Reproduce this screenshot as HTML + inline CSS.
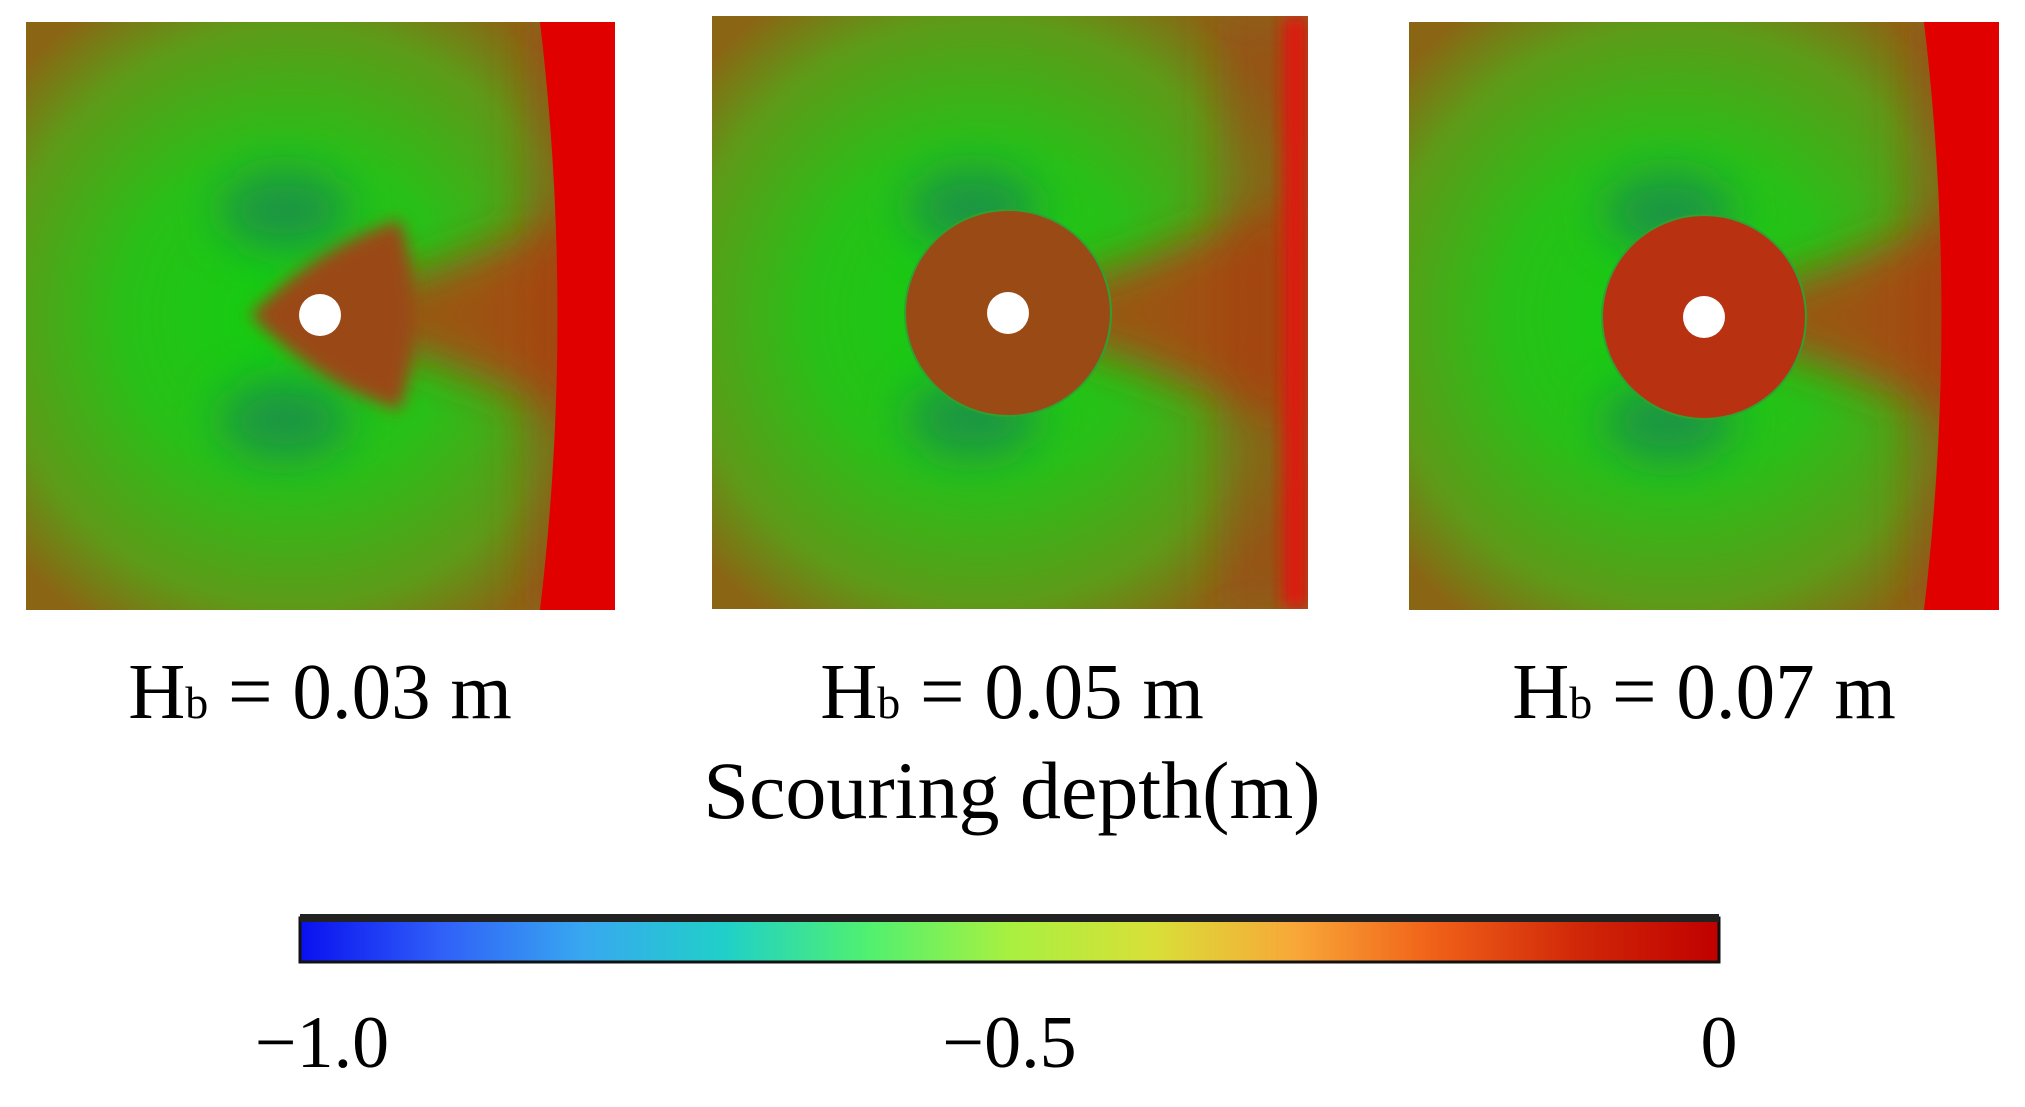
<!DOCTYPE html>
<html><head><meta charset="utf-8"><style>
html,body{margin:0;padding:0;background:#fff}
svg{display:block}
text{font-family:"Liberation Serif",serif;fill:#000}
</style></head><body>
<svg id="fig" width="2025" height="1107" viewBox="0 0 2025 1107" xmlns="http://www.w3.org/2000/svg">
<defs>
<radialGradient id="bg" cx="0.45" cy="0.5" r="0.62">
<stop offset="0" stop-color="#10d010"/><stop offset="0.45" stop-color="#28c018"/><stop offset="0.8" stop-color="#5e9a18"/><stop offset="1" stop-color="#8a6614"/></radialGradient>
<filter id="blur" x="-50%" y="-50%" width="200%" height="200%"><feGaussianBlur stdDeviation="22"/></filter>
<filter id="blur2" x="-50%" y="-50%" width="200%" height="200%"><feGaussianBlur stdDeviation="8"/></filter>
<linearGradient id="cbar" x1="0" x2="1" y1="0" y2="0">
<stop offset="0" stop-color="#0a10f0"/><stop offset="0.1" stop-color="#3060f8"/><stop offset="0.2" stop-color="#38a8f0"/><stop offset="0.3" stop-color="#20d0c8"/><stop offset="0.4" stop-color="#50f070"/><stop offset="0.5" stop-color="#a8f040"/><stop offset="0.6" stop-color="#d8e038"/><stop offset="0.7" stop-color="#f8a838"/><stop offset="0.8" stop-color="#f06018"/><stop offset="0.9" stop-color="#d02808"/><stop offset="1" stop-color="#c00000"/></linearGradient>
<clipPath id="c1"><rect x="26" y="22" width="589" height="588"/></clipPath>
<clipPath id="c2"><rect x="712" y="16" width="596" height="593"/></clipPath>
<clipPath id="c3"><rect x="1409" y="22" width="590" height="588"/></clipPath>
</defs>
<g id="panels"></g>
<g id="labels"></g>
<text x="1012" y="818" font-size="82" text-anchor="middle">Scouring depth(m)</text>
<g id="colorbar"></g>
</svg>
<script>
const hbValues = ["0.03","0.05","0.07"];
const tickValues = [-1.0,-0.5,0];
const tickLabels = ["\u22121.0","\u22120.5","0"];
const NS="http://www.w3.org/2000/svg";
function mk(t,a,p){const e=document.createElementNS(NS,t);for(const k in a)e.setAttribute(k,a[k]);p.appendChild(e);return e;}
const boxes=[[26,22,589,588,'c1',320,315,0],[712,16,596,593,'c2',1008,313,103],[1409,22,590,588,'c3',1704,317,102]];
const labelX=[320,1012,1704];
const P=document.getElementById('panels');
boxes.forEach((b,i)=>{
 const g=mk('g',{'clip-path':'url(#'+b[4]+')'},P);
 
 
 mk('rect',{x:b[0],y:b[1],width:b[2],height:b[3],fill:'url(#bg)'},g);
 const f=mk('g',{filter:'url(#blur)'},g);
 const cx=b[5],cy=b[6];
 mk('ellipse',{cx:cx-35,cy:cy-105,rx:65,ry:40,fill:'#1a8a50','fill-opacity':0.8},f);
 mk('ellipse',{cx:cx-35,cy:cy+105,rx:65,ry:40,fill:'#1a8a50','fill-opacity':0.8},f);
 mk('path',{d:`M${cx-20} ${cy} L${cx+200} ${cy-80} L${b[0]+b[2]} ${cy-120} L${b[0]+b[2]} ${cy+120} L${cx+200} ${cy+80} Z`,fill:'#c03010','fill-opacity':0.75},f);
 mk('rect',{x:b[0]+b[2]-90,y:b[1],width:90,height:b[3],fill:'#a04010','fill-opacity':0.5},f);
 if(i!==1){
  mk('path',{d:`M${b[0]+b[2]-75} ${b[1]} Q${b[0]+b[2]-40} ${b[1]+b[3]/2} ${b[0]+b[2]-75} ${b[1]+b[3]} L${b[0]+b[2]} ${b[1]+b[3]} L${b[0]+b[2]} ${b[1]} Z`,fill:'#e00000'},g);
 } else {
  mk('rect',{x:b[0]+b[2]-25,y:b[1],width:25,height:b[3],fill:'#e01808','filter':'url(#blur2)'},g);
 }
 if(b[7]>0){
  const c=mk('circle',{cx:cx,cy:cy,r:b[7],fill:i===1?'#9a4a14':'#b83212',stroke:'#30a030','stroke-width':2},g);
  
  
 } else {
  const w=mk('g',{filter:'url(#blur2)'},g);
  mk('path',{d:`M${cx-70} ${cy} Q${cx} ${cy-70} ${cx+80} ${cy-95} Q${cx+110} ${cy} ${cx+80} ${cy+95} Q${cx} ${cy+70} ${cx-70} ${cy} Z`,fill:'#9a4a14'},w);
 }
 const pier=mk('circle',{cx:cx,cy:cy,r:21,fill:'#fff'},g);
 
 
});
const L=document.getElementById('labels');
hbValues.forEach((v,i)=>{
 const t=mk('text',{x:labelX[i],y:718,'font-size':79,'text-anchor':'middle'},L);
 
 
 t.appendChild(document.createTextNode('H'));
 const s=mk('tspan',{'font-size':46},t);s.textContent='b';
 t.appendChild(document.createTextNode(' = '+v+' m'));
});
const C=document.getElementById('colorbar');
const x0=300,x1=1719,vmin=-1,vmax=0;
const xs=v=>x0+(v-vmin)/(vmax-vmin)*(x1-x0);
const bar=mk('rect',{x:x0,y:918,width:x1-x0,height:44,fill:'url(#cbar)',stroke:'#111','stroke-width':3},C);


mk('rect',{x:x0,y:914,width:x1-x0,height:8,fill:'#222'},C);
tickValues.forEach((v,i)=>{
 const t=mk('text',{x:xs(v)+(i===0?22:0),y:1067,'font-size':74,'text-anchor':'middle'},C);
 
 
 t.textContent=tickLabels[i];
});
</script>
</body></html>
